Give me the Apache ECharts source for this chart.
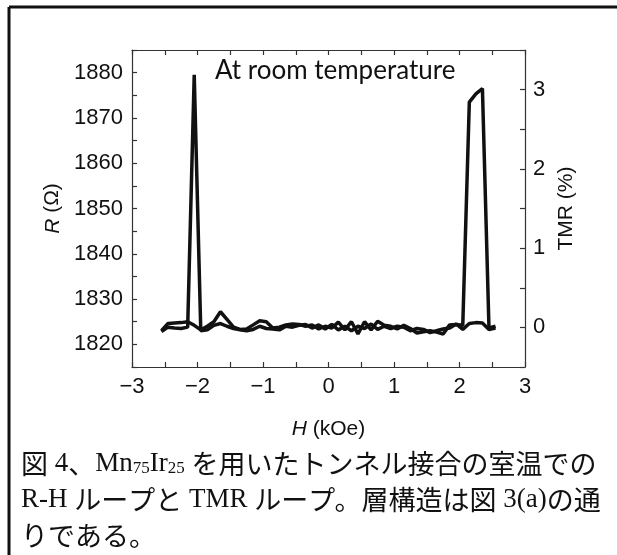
<!DOCTYPE html>
<html>
<head>
<meta charset="utf-8">
<script src="https://cdn.jsdelivr.net/npm/echarts@6/dist/echarts.min.js"></script>
<style>
html,body{margin:0;padding:0;background:#fff;}
#c{width:617px;height:555px;}
</style>
</head>
<body>
<div id="c"></div>
<script>
// Field values (kOe)
var fieldH = [-2.55,-2.45,-2.35,-2.25,-2.15,-2.05,-1.95,-1.85,-1.75,-1.65,-1.55,-1.45,-1.35,-1.25,-1.15,-1.05,-0.95,-0.85,-0.75,-0.65,-0.55,-0.45,-0.35,-0.25,-0.15,-0.05,0.05,0.15,0.25,0.35,0.45,0.55,0.65,0.75,0.85,0.95,1.05,1.15,1.25,1.35,1.45,1.55,1.65,1.75,1.85,1.95,2.05,2.15,2.25,2.35,2.45,2.55];
// Resistance, branch with spike at positive field
var rBranchUp = [1823.0,1824.6,1824.7,1824.8,1825.0,1824.2,1823.2,1824.0,1825.0,1827.2,1825.5,1823.8,1823.3,1823.4,1824.3,1825.2,1825.0,1823.6,1823.8,1824.3,1824.5,1824.4,1824.0,1824.3,1823.4,1824.0,1823.6,1824.9,1823.2,1825.0,1822.3,1825.0,1823.2,1825.1,1824.2,1824.0,1823.4,1824.2,1823.5,1822.5,1822.8,1823.0,1822.7,1822.3,1824.3,1824.4,1824.2,1873.5,1875.3,1876.5,1823.6,1824.0];
// Resistance, branch with spike at negative field
var rBranchDown = [1822.8,1823.8,1823.6,1823.5,1823.8,1879.5,1823.0,1823.2,1824.2,1824.6,1824.0,1823.5,1823.2,1823.0,1823.3,1824.0,1823.5,1823.4,1823.2,1824.0,1823.8,1824.2,1824.4,1823.6,1824.3,1823.4,1824.4,1823.2,1824.0,1823.0,1824.0,1823.5,1824.5,1823.3,1824.0,1823.5,1824.0,1823.8,1823.0,1823.5,1823.3,1822.6,1823.0,1823.4,1823.6,1824.5,1823.3,1824.6,1824.8,1824.7,1823.3,1823.6];
// Tick labels
var xTicks = [-3,-2,-1,0,1,2,3];
var rTicks = [1820,1830,1840,1850,1860,1870,1880];
var tmrTicks = [0,1,2,3];

var chart = echarts.init(document.getElementById('c'), null, {renderer:'canvas'});
function pairs(xs, ys){ return xs.map(function(x,i){ return [x, ys[i]]; }); }
var lblFont = {fontFamily:'Liberation Sans, Arial, sans-serif', fontSize:22, color:'#111'};
var axLine = {show:true, onZero:false, lineStyle:{color:'#333', width:1.2}};
var tick = {show:true, inside:true, length:5, lineStyle:{color:'#333', width:1.2}};
function fmtX(v){ if (xTicks.indexOf(v) < 0) return ''; return v < 0 ? '\u2212' + Math.abs(v) : String(v); }

var option = {
  animation:false,
  backgroundColor:'#fff',
  grid:{left:132, right:92, top:50, bottom:188, containLabel:false},
  xAxis:[{
    type:'value', min:-3, max:3, interval:0.5, position:'bottom',
    axisLine:axLine, axisTick:tick, splitLine:{show:false},
    axisLabel:Object.assign({margin:9, formatter:fmtX}, lblFont),
    name:'{i|H} (kOe)', nameLocation:'middle', nameGap:52,
    nameTextStyle:{fontFamily:'Liberation Sans, Arial, sans-serif', fontSize:21, color:'#111',
      rich:{i:{fontStyle:'italic', fontFamily:'Liberation Sans, Arial, sans-serif', fontSize:21, color:'#111'}}}
  },{
    type:'value', min:-3, max:3, interval:0.5, position:'top',
    axisLine:axLine, axisTick:tick, splitLine:{show:false}, axisLabel:{show:false}
  }],
  yAxis:[{
    type:'value', min:1815, max:1885, interval:5, position:'left',
    axisLine:axLine, axisTick:tick, splitLine:{show:false},
    axisLabel:Object.assign({margin:9, formatter:function(v){ return rTicks.indexOf(v) >= 0 ? String(v) : ''; }}, lblFont),
    name:'{i|R} (Ω)', nameLocation:'middle', nameGap:64,
    nameTextStyle:{fontFamily:'Liberation Sans, Arial, sans-serif', fontSize:21, color:'#111',
      rich:{i:{fontStyle:'italic', fontFamily:'Liberation Sans, Arial, sans-serif', fontSize:21, color:'#111'}}}
  },{
    type:'value', min:-0.5, max:3.5, interval:0.5, position:'right',
    axisLine:axLine, axisTick:tick, splitLine:{show:false},
    axisLabel:Object.assign({margin:8, formatter:function(v){ return tmrTicks.indexOf(v) >= 0 ? String(v) : ''; }}, lblFont),
    name:'TMR (%)', nameLocation:'middle', nameGap:27,
    nameTextStyle:{fontFamily:'Liberation Sans, Arial, sans-serif', fontSize:21, color:'#111'}
  }],
  series:[{
    type:'line', xAxisIndex:0, yAxisIndex:0, showSymbol:false, symbol:'none',
    data:pairs(fieldH, rBranchUp), lineStyle:{color:'#111', width:3.5}, silent:true
  },{
    type:'line', xAxisIndex:0, yAxisIndex:0, showSymbol:false, symbol:'none',
    data:pairs(fieldH, rBranchDown), lineStyle:{color:'#111', width:3.5}, silent:true
  }],
  graphic:[
    {type:'line', shape:{x1:9, y1:7, x2:617, y2:7}, style:{stroke:'#111', lineWidth:3}},
    {type:'line', shape:{x1:9, y1:7, x2:9, y2:555}, style:{stroke:'#111', lineWidth:3}},
    {type:'text', left:215, top:58, style:{text:'At room temperature', font:'26px Lato, "Open Sans", sans-serif', fill:'#111'}},
    {type:'text', left:21, top:450, style:{
      text:'{j|図}{t| 4}{j|、}{t|Mn}{s|75}{t|Ir}{s|25}{t| }{j|を用いたトンネル接合の室温での}',
      rich:{
        j:{fontFamily:'Noto Sans CJK JP', fontSize:27, lineHeight:36, fill:'#111', verticalAlign:'bottom'},
        t:{fontFamily:'Liberation Serif, serif', fontSize:27, lineHeight:36, fill:'#111', verticalAlign:'bottom'},
        s:{fontFamily:'Liberation Serif, serif', fontSize:17, lineHeight:30, fill:'#111', verticalAlign:'bottom'}
      }}},
    {type:'text', left:21, top:486, style:{
      text:'{t|R-H }{j|ループと}{t| TMR }{j|ループ。層構造は図}{t| 3(a)}{j|の通}',
      rich:{
        j:{fontFamily:'Noto Sans CJK JP', fontSize:27, lineHeight:36, fill:'#111', verticalAlign:'bottom'},
        t:{fontFamily:'Liberation Serif, serif', fontSize:27, lineHeight:36, fill:'#111', verticalAlign:'bottom'}
      }}},
    {type:'text', left:21, top:522, style:{
      text:'{j|りである。}',
      rich:{
        j:{fontFamily:'Noto Sans CJK JP', fontSize:27, lineHeight:36, fill:'#111'}
      }}}
  ]
};
chart.setOption(option);
</script>
</body>
</html>
